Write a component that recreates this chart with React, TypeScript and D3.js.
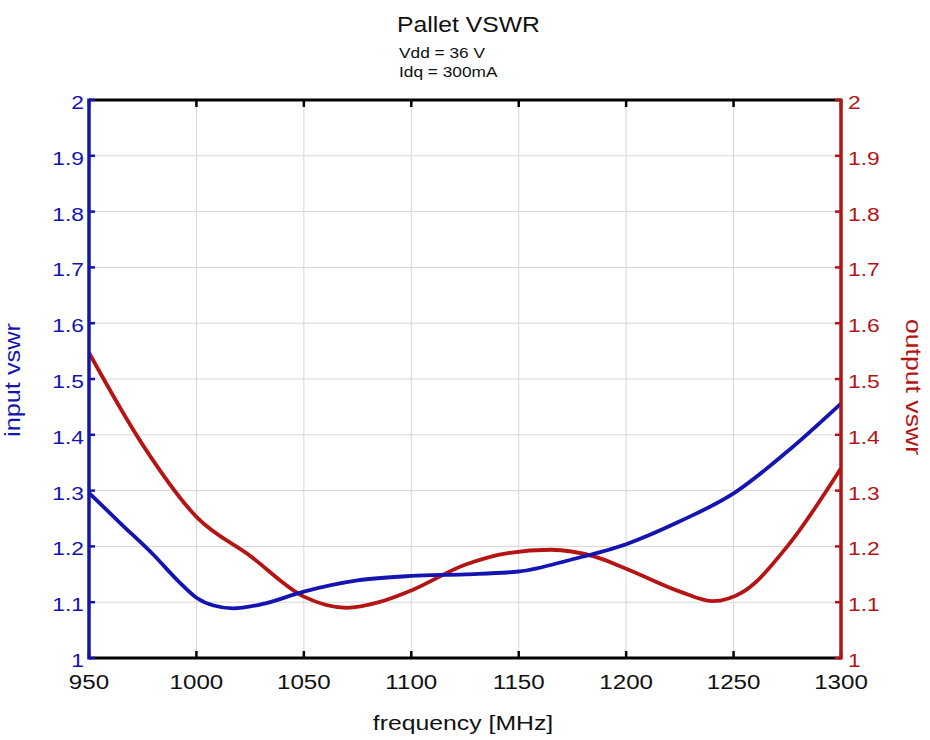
import React from "react";
import * as d3 from "d3";

const inputFreq = [950, 965, 980, 992, 1000, 1008, 1017, 1030, 1050, 1075, 1100, 1125, 1150, 1175, 1200, 1225, 1250, 1275, 1300];
const inputVswr = [1.296, 1.240, 1.185, 1.136, 1.108, 1.094, 1.089, 1.096, 1.119, 1.139, 1.147, 1.150, 1.155, 1.177, 1.204, 1.245, 1.295, 1.370, 1.456];

const outputFreq = [950, 975, 1000, 1025, 1050, 1070, 1085, 1100, 1125, 1145, 1165, 1185, 1200, 1225, 1240, 1255, 1275, 1300];
const outputVswr = [1.547, 1.382, 1.253, 1.183, 1.110, 1.090, 1.100, 1.121, 1.167, 1.188, 1.194, 1.182, 1.160, 1.119, 1.102, 1.120, 1.200, 1.340];

const xTicks = [950, 1000, 1050, 1100, 1150, 1200, 1250, 1300];
const yTicks = [1, 1.1, 1.2, 1.3, 1.4, 1.5, 1.6, 1.7, 1.8, 1.9, 2];

const BLUE = "#1414b0";
const RED = "#b41414";
const FONT = "'Liberation Sans', Arial, Helvetica, sans-serif";

function Txt({ x, y, sx = 1, anchor = "start", size, fill = "#111", children }: any) {
  return (
    <text
      transform={`translate(${x},${y}) scale(${sx},1)`}
      textAnchor={anchor}
      fontSize={size}
      fill={fill}
      fontFamily={FONT}
    >
      {children}
    </text>
  );
}

export default function App() {
  const L = 89, R = 841, T = 100, B = 658;
  const x = d3.scaleLinear().domain([950, 1300]).range([L, R]);
  const y = d3.scaleLinear().domain([1, 2]).range([B, T]);

  const line = d3
    .line<[number, number]>()
    .x((d) => x(d[0]))
    .y((d) => y(d[1]))
    .curve(d3.curveMonotoneX);

  const inPts = inputFreq.map((f, i) => [f, inputVswr[i]] as [number, number]);
  const outPts = outputFreq.map((f, i) => [f, outputVswr[i]] as [number, number]);
  const fmt = d3.format("~g");

  return (
    <svg width={930} height={740} style={{ position: "absolute", left: 0, top: 0, background: "#fff" }}>
      <rect x={0} y={0} width={930} height={740} fill="#fff" />
      {xTicks.map((t) => (
        <line key={"gx" + t} x1={x(t)} x2={x(t)} y1={T} y2={B} stroke="#d6d6d6" strokeWidth={1} />
      ))}
      {yTicks.map((t) => (
        <line key={"gy" + t} x1={L} x2={R} y1={y(t)} y2={y(t)} stroke="#d6d6d6" strokeWidth={1} />
      ))}
      <path d={line(outPts) || ""} fill="none" stroke={RED} strokeWidth={3.8} strokeLinejoin="round" />
      <path d={line(inPts) || ""} fill="none" stroke={BLUE} strokeWidth={3.8} strokeLinejoin="round" />
      <line x1={L} x2={R} y1={T} y2={T} stroke="#000" strokeWidth={3} />
      <line x1={L} x2={R} y1={B} y2={B} stroke="#000" strokeWidth={3} />
      {xTicks.map((t) => (
        <g key={"tx" + t}>
          <line x1={x(t)} x2={x(t)} y1={T} y2={T + 7} stroke="#000" strokeWidth={2.5} />
          <line x1={x(t)} x2={x(t)} y1={B} y2={B - 7} stroke="#000" strokeWidth={2.5} />
        </g>
      ))}
      <line x1={L} x2={L} y1={T - 1.5} y2={B + 1.5} stroke={BLUE} strokeWidth={3.5} />
      <line x1={R} x2={R} y1={T - 1.5} y2={B + 1.5} stroke={RED} strokeWidth={3.5} />
      {yTicks.map((t) => (
        <g key={"ty" + t}>
          <line x1={L} x2={L + 6} y1={y(t)} y2={y(t)} stroke={BLUE} strokeWidth={2.5} />
          <line x1={R} x2={R - 6} y1={y(t)} y2={y(t)} stroke={RED} strokeWidth={2.5} />
          <Txt x={L - 5} y={y(t) + 9} anchor="end" size={19} sx={1.2} fill={BLUE}>
            {fmt(t)}
          </Txt>
          <Txt x={R + 7} y={y(t) + 9} anchor="start" size={19} sx={1.2} fill={RED}>
            {fmt(t)}
          </Txt>
        </g>
      ))}
      {xTicks.map((t) => (
        <Txt key={"lx" + t} x={x(t)} y={689} anchor="middle" size={21} sx={1.15}>
          {t}
        </Txt>
      ))}
      <Txt x={397} y={32} size={21.5} sx={1.15}>Pallet VSWR</Txt>
      <Txt x={399} y={57.5} size={15.3} sx={1.13}>Vdd = 36 V</Txt>
      <Txt x={399} y={76.5} size={15.3} sx={1.13}>Idq = 300mA</Txt>
      <Txt x={463} y={730} anchor="middle" size={21} sx={1.18}>frequency [MHz]</Txt>
      <text
        transform="translate(20,380) rotate(-90)"
        textAnchor="middle"
        fontSize={22}
        fill={BLUE}
        fontFamily={FONT}
        textLength={114}
        lengthAdjust="spacingAndGlyphs"
      >
        input vswr
      </text>
      <text
        transform="translate(906,387) rotate(90)"
        textAnchor="middle"
        fontSize={22}
        fill={RED}
        fontFamily={FONT}
        textLength={136}
        lengthAdjust="spacingAndGlyphs"
      >
        output vswr
      </text>
    </svg>
  );
}
